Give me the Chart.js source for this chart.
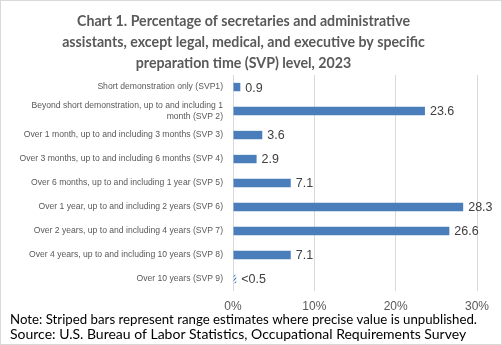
<!DOCTYPE html>
<html>
<head>
<meta charset="utf-8">
<script src="https://cdn.jsdelivr.net/npm/chart.js@4/dist/chart.umd.min.js"></script>
<style>
  html, body { margin: 0; padding: 0; background: #fff; }
  #wrap { position: relative; width: 502px; height: 345px; box-sizing: border-box; border: 1px solid #d9d9d9; }
  canvas { display: block; }
</style>
</head>
<body>
<div id="wrap"><canvas id="c" width="500" height="343"></canvas></div>
<script>
  const categories = [
    'Short demonstration only (SVP1)',
    ['Beyond short demonstration, up to and including 1', 'month (SVP 2)'],
    'Over 1 month, up to and including 3 months (SVP 3)',
    'Over 3 months, up to and including 6 months (SVP 4)',
    'Over 6 months, up to and including 1 year (SVP 5)',
    'Over 1 year, up to and including 2 years (SVP 6)',
    'Over 2 years, up to and including 4 years (SVP 7)',
    'Over 4 years, up to and including 10 years (SVP 8)',
    'Over 10 years (SVP 9)'
  ];
  const values = [0.9, 23.6, 3.6, 2.9, 7.1, 28.3, 26.6, 7.1, 0.4];
  const valueLabels = ['0.9', '23.6', '3.6', '2.9', '7.1', '28.3', '26.6', '7.1', '<0.5'];
  const striped = [false, false, false, false, false, false, false, false, true];

  const titleLines = [
    'Chart 1. Percentage of secretaries and administrative',
    'assistants, except legal, medical, and executive by specific',
    'preparation time (SVP) level, 2023'
  ];
  const noteLines = [
    'Note: Striped bars represent range estimates where precise value is unpublished.',
    'Source: U.S. Bureau of Labor Statistics, Occupational Requirements Survey'
  ];

  const BLUE = '#4a7ebb';
  const FONT = "'Liberation Sans', Arial, sans-serif";
  const LATO = "Lato, 'Liberation Sans', sans-serif";

  // diagonal stripes for range estimates
  function stripePattern(ctx) {
    const p = document.createElement('canvas');
    p.width = 4; p.height = 4;
    const g = p.getContext('2d');
    g.fillStyle = '#fff';
    g.fillRect(0, 0, 4, 4);
    g.strokeStyle = BLUE;
    g.lineWidth = 1.2;
    g.beginPath();
    g.moveTo(0, 4); g.lineTo(4, 0);
    g.moveTo(-1, 1); g.lineTo(1, -1);
    g.moveTo(3, 5); g.lineTo(5, 3);
    g.stroke();
    return ctx.createPattern(p, 'repeat');
  }

  const canvas = document.getElementById('c');
  const ctx = canvas.getContext('2d');
  const stripes = stripePattern(ctx);

  const valueLabelPlugin = {
    id: 'valueLabels',
    afterDatasetsDraw(chart) {
      const c = chart.ctx;
      const meta = chart.getDatasetMeta(0);
      c.save();
      c.font = '12.5px ' + FONT;
      c.fillStyle = '#404040';
      c.textAlign = 'left';
      c.textBaseline = 'middle';
      meta.data.forEach((bar, i) => {
        c.fillText(valueLabels[i], bar.x + 5, bar.y + 1);
      });
      c.restore();
    }
  };

  new Chart(canvas, {
    type: 'bar',
    data: {
      labels: categories,
      datasets: [{
        data: values,
        backgroundColor: striped.map(s => s ? stripes : BLUE),
        borderWidth: 0,
        barPercentage: 0.7,
        categoryPercentage: 0.5
      }]
    },
    options: {
      indexAxis: 'y',
      responsive: false,
      animation: false,
      layout: { padding: { left: 9, right: 24, top: 0, bottom: 2 } },
      plugins: {
        legend: { display: false },
        tooltip: { enabled: false },
        title: {
          display: true,
          text: titleLines,
          color: '#595959',
          font: { family: LATO, size: 14.2, weight: 'bold', lineHeight: 1.48 },
          padding: { top: 10, bottom: 1 }
        },
        subtitle: {
          display: true,
          position: 'bottom',
          align: 'start',
          text: noteLines,
          color: '#000',
          font: { family: LATO, size: 14, lineHeight: 1.07 },
          padding: { top: 0, bottom: 0 }
        }
      },
      scales: {
        x: {
          min: 0,
          max: 30,
          afterFit: scale => { scale.height = 21; },
          ticks: {
            stepSize: 10,
            callback: v => v + '%',
            color: '#595959',
            font: { family: FONT, size: 12 },
            padding: 8
          },
          grid: { color: '#d9d9d9', drawTicks: false },
          border: { display: false }
        },
        y: {
          afterFit: scale => { scale.width = 223; },
          ticks: {
            autoSkip: false,
            color: '#595959',
            font: { family: FONT, size: 8.6, lineHeight: 1.3 },
            padding: 2
          },
          grid: { display: false },
          border: { display: false }
        }
      }
    },
    plugins: [valueLabelPlugin]
  });
</script>
</body>
</html>
